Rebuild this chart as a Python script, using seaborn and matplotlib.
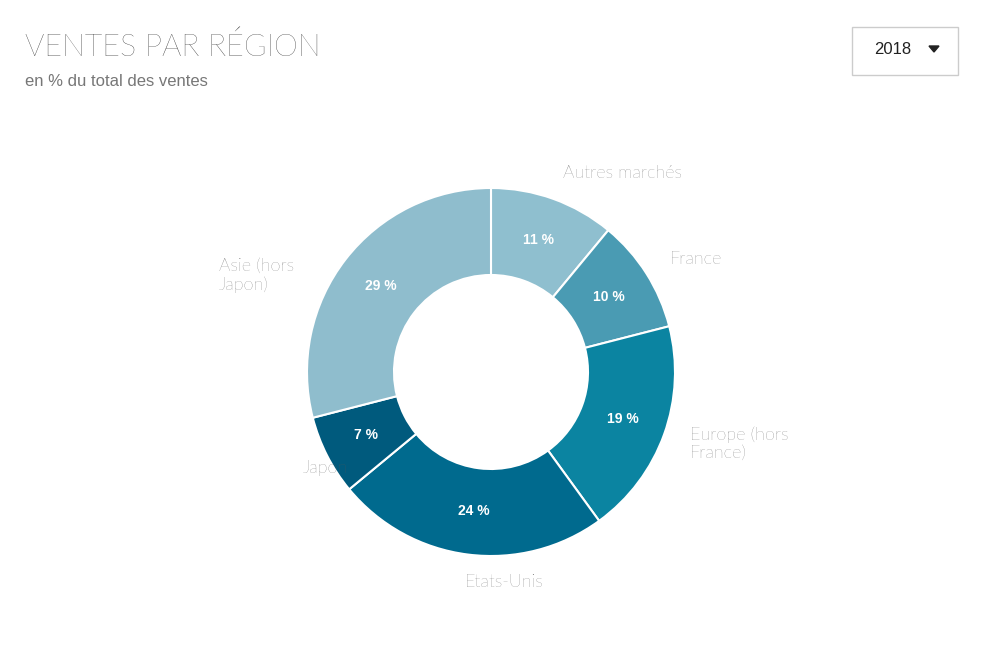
import matplotlib
matplotlib.use("Agg")
import matplotlib.pyplot as plt
import matplotlib.patches as mpatches
import numpy as np
import seaborn as sns

sns.set_theme(style="white")
plt.rcParams['font.family'] = ['Lato', 'DejaVu Sans']

regions = ["Autres marchés", "France", "Europe (hors\nFrance)", "Etats-Unis", "Japon", "Asie (hors\nJapon)"]
shares = [11, 10, 19, 24, 7, 29]
colors = ["#8fbfcf", "#4a9bb3", "#0b84a1", "#006a8e", "#005a7d", "#8fbdcd"]

W, H = 1000, 648
fig = plt.figure(figsize=(10, 6.48), dpi=100)
ax = fig.add_axes([0, 0, 1, 1])
cx, cy, R = 491, H - 372, 184

wedges, texts, autotexts = ax.pie(
    shares, labels=regions, colors=colors, startangle=90, counterclock=False,
    center=(cx, cy), radius=R, labeldistance=1.15, pctdistance=0.76,
    autopct=lambda p: f"{p:.0f} %",
    wedgeprops=dict(width=R - 97, edgecolor="white", linewidth=1.5),
    textprops=dict(fontsize=13, color="#555555", fontweight="light"))
for t in autotexts:
    t.set_color("white"); t.set_fontsize(10); t.set_fontweight("bold")
    t.set_family(["Liberation Sans", "DejaVu Sans"])
for t in texts:
    t.set_multialignment("left")
# Asie label sits a bit lower in the reference
texts[5].set_position((294, H - 275))
texts[5].set_ha("right")

ax.set_xlim(0, W); ax.set_ylim(0, H)
ax.set_aspect("equal")
ax.axis("off")

fig.text(25 / W, 1 - 47 / H, "VENTES PAR RÉGION", fontsize=22, color="#222222",
         fontweight="light", va="center")
fig.text(25 / W, 1 - 82 / H, "en % du total des ventes", fontsize=12, color="#777777",
         va="center", family=["Liberation Sans", "DejaVu Sans"])

box = mpatches.Rectangle((852, H - 75), 106, 48, fill=False, edgecolor="#cccccc", linewidth=1)
ax.add_patch(box)
ax.text(893, H - 50, "2018", fontsize=12, color="#222222", ha="center", va="center",
        family=["Liberation Sans", "DejaVu Sans"])
ax.add_patch(mpatches.Polygon([[929, H - 46], [939, H - 46], [934, H - 52]], closed=True,
                              color="#222222"))

fig.savefig("out.png", dpi=100, facecolor="white")
